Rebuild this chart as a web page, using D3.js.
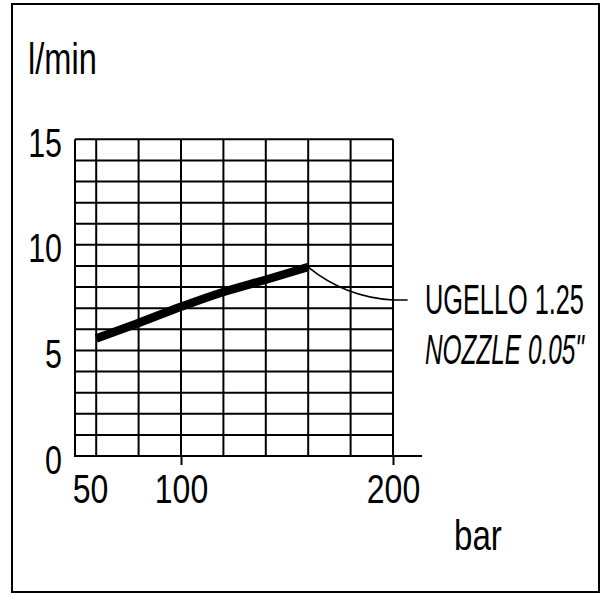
<!DOCTYPE html>
<html>
<head>
<meta charset="utf-8">
<script src="https://cdn.jsdelivr.net/npm/d3@7"></script>
<style>
  body { margin: 0; background: #fff; }
  text { font-family: "Liberation Sans", Arial, sans-serif; fill: #000; }
</style>
</head>
<body>
<div id="chart"></div>
<script>
var svgWidth = 605;
var svgHeight = 595;

// flow curve (bar -> l/min)
var pressure = [60, 80, 100, 120, 140, 160];
var flow = [5.57, 6.3, 7.07, 7.77, 8.35, 8.95];

// axes and grid
var xTicks = [50, 100, 200];
var yTicks = [0, 5, 10, 15];
var xGrid = [60, 80, 100, 120, 140, 160, 180, 200];
var yGrid = [1, 2, 3, 4, 5, 6, 7, 8, 9, 10, 11, 12, 13, 14, 15];

var labelLines = ["UGELLO 1.25", "NOZZLE 0.05\""];

var svg = d3.select("#chart")
  .append("svg")
  .attr("width", svgWidth)
  .attr("height", svgHeight);

// outer frame
svg.append("rect")
  .attr("x", 12)
  .attr("y", 4)
  .attr("width", 587)
  .attr("height", 588)
  .attr("fill", "none")
  .attr("stroke", "#000")
  .attr("stroke-width", 2);

var x = d3.scaleLinear().domain([50, 200]).range([75, 393]);
var y = d3.scaleLinear().domain([0, 15]).range([456, 139.3]);

// squeeze text to look like the condensed face of the original
function condense(sel, k) {
  sel.each(function() {
    var w = this.getComputedTextLength();
    d3.select(this)
      .attr("textLength", w * k)
      .attr("lengthAdjust", "spacingAndGlyphs");
  });
}

// text squeezed to a given width with a scale transform
function squeezedText(px, py, str, width, italic) {
  var g = svg.append("g");
  var t = g.append("text")
    .style("font-size", "42px")
    .style("font-style", italic ? "italic" : "normal")
    .text(str);
  var k = width / t.node().getComputedTextLength();
  g.attr("transform", `translate(${px}, ${py}) scale(${k}, 1)`);
  return t;
}

var grid = svg.append("g")
  .attr("stroke", "#000")
  .attr("stroke-width", 2)
  .attr("fill", "none");

// vertical grid lines
grid.selectAll(".vg")
  .data(xGrid)
  .enter()
  .append("line")
  .attr("x1", d => x(d))
  .attr("x2", d => x(d))
  .attr("y1", y(0))
  .attr("y2", y(15));

// horizontal grid lines
grid.selectAll(".hg")
  .data(yGrid)
  .enter()
  .append("line")
  .attr("x1", x(50))
  .attr("x2", x(200))
  .attr("y1", d => y(d))
  .attr("y2", d => y(d));

// left edge
grid.append("line")
  .attr("x1", x(50)).attr("x2", x(50))
  .attr("y1", y(0)).attr("y2", y(15));

// bottom axis line runs a bit past 200
grid.append("line")
  .attr("x1", x(50) - 1).attr("x2", x(200) + 29)
  .attr("y1", y(0)).attr("y2", y(0));

// x axis
var bottomAxis = d3.axisBottom(x)
  .tickValues(xTicks)
  .tickSize(9)
  .tickFormat(d3.format("d"));

var xAxis = svg.append("g")
  .attr("transform", `translate(0, ${y(0)})`)
  .call(bottomAxis);

xAxis.select(".domain").remove();
xAxis.selectAll(".tick line").attr("stroke", "#000").attr("stroke-width", 2);
xAxis.selectAll(".tick").filter(d => d === 50).select("line").remove();
xAxis.selectAll(".tick text")
  .attr("y", 47)
  .attr("dy", 0)
  .attr("dx", d => d === 50 ? 15 : 0)
  .style("font-size", "41px")
  .style("font-family", "'Liberation Sans', Arial, sans-serif")
  .attr("fill", "#000")
  .call(condense, 0.78);

// y axis
var leftAxis = d3.axisLeft(y)
  .tickValues(yTicks)
  .tickSize(0)
  .tickPadding(13);

var yAxis = svg.append("g")
  .attr("transform", `translate(${x(50)}, 0)`)
  .call(leftAxis);

yAxis.select(".domain").remove();
yAxis.selectAll(".tick text")
  .attr("dy", 17)
  .style("font-size", "40px")
  .style("font-family", "'Liberation Sans', Arial, sans-serif")
  .attr("fill", "#000")
  .call(condense, 0.76);

// axis titles
svg.append("text")
  .attr("x", 28)
  .attr("y", 74)
  .style("font-size", "44px")
  .text("l/min")
  .call(condense, 0.74);

svg.append("text")
  .attr("x", 454)
  .attr("y", 550)
  .style("font-size", "43px")
  .text("bar")
  .call(condense, 0.77);

// flow curve
var flowData = pressure.map((p, i) => ({ p: p, q: flow[i] }));

var flowLine = d3.line()
  .x(d => x(d.p))
  .y(d => y(d.q))
  .curve(d3.curveMonotoneX);

svg.append("path")
  .datum(flowData)
  .attr("d", flowLine)
  .attr("fill", "none")
  .attr("stroke", "#000")
  .attr("stroke-width", 8.5);

// leader line from the curve end to the label
var last = flowData[flowData.length - 1];
var leader = d3.path();
leader.moveTo(x(last.p), y(last.q));
leader.quadraticCurveTo(x(177.4), y(7.53), x(200), y(7.39));
leader.lineTo(x(206.9), y(7.39));

svg.append("path")
  .attr("d", leader.toString())
  .attr("fill", "none")
  .attr("stroke", "#000")
  .attr("stroke-width", 1.6);

// nozzle label
squeezedText(425, 314, labelLines[0], 159, false);
squeezedText(425, 364, labelLines[1], 159, true);
</script>
</body>
</html>
